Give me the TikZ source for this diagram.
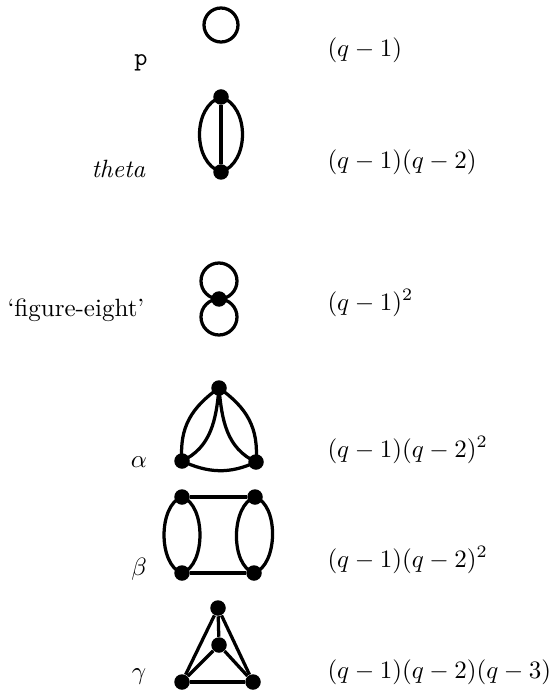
\documentclass[tikz,border=0pt]{standalone}
\begin{document}
\begin{tikzpicture}[x=0.4pt,y=0.4pt,
  edge/.style={line width=1.3pt},
  vtx/.style={circle,fill=black,inner sep=0pt,minimum size=6.2pt},
  lbl/.style={inner sep=0pt},
  poly/.style={anchor=west,inner sep=0pt}]
\useasboundingbox (0,0) rectangle (551,-691);

% p
\draw[edge] (221,-25) circle[radius=17];
\node[lbl,anchor=base] (lp) at (141,-66) {\texttt{p}};
\node[poly] (pp) at (327,-50) {$(q-1)$};

% theta
\node[vtx] (t1) at (221,-97) {};
\node[vtx] (t2) at (221,-172) {};
\draw[edge] (t1.center) to[out=198,in=162,looseness=1.03] (t2.center);
\draw[edge] (t1.center) to[out=-18,in=18,looseness=1.03] (t2.center);
\draw[edge] (t1) -- (t2);
\node[lbl,anchor=base east] (lt) at (146,-178) {\textit{theta}};
\node[poly] (pt) at (327,-162) {$(q-1)(q-2)$};

% figure eight
\node[vtx] (f) at (219,-299) {};
\draw[edge] (f.center) ++(0,18) circle[radius=18];
\draw[edge] (f.center) ++(0,-18) circle[radius=18];
\node[lbl,anchor=west] (lf) at (7,-310) {`figure-eight'};
\node[poly] (pf) at (327,-303) {$(q-1)^2$};

% alpha
\node[vtx] (a1) at (219,-388) {};
\node[vtx] (a2) at (182,-461) {};
\node[vtx] (a3) at (256,-462) {};
\draw[edge] (a1.center) to[out=215,in=95,looseness=1.05] (a2.center);
\draw[edge] (a1.center) to[out=-35,in=85,looseness=1.05] (a3.center);
\draw[edge] (a1.center) to[out=-95,in=25,looseness=1.0] (a2.center);
\draw[edge] (a1.center) to[out=-85,in=155,looseness=1.0] (a3.center);
\draw[edge] (a2.center) to[out=-25,in=-155,looseness=1.0] (a3.center);
\node[lbl] (la) at (139,-462) {$\alpha$};
\node[poly] (pa) at (327,-450) {$(q-1)(q-2)^2$};

% beta
\node[vtx] (b1) at (182,-497) {};
\node[vtx] (b2) at (255,-497) {};
\node[vtx] (b3) at (182,-573) {};
\node[vtx] (b4) at (254,-573) {};
\draw[edge] (b1) -- (b2);
\draw[edge] (b3) -- (b4);
\draw[edge] (b1.center) to[out=198,in=162,looseness=0.85] (b3.center);
\draw[edge] (b1.center) to[out=-18,in=18,looseness=0.85] (b3.center);
\draw[edge] (b2.center) to[out=198,in=162,looseness=0.85] (b4.center);
\draw[edge] (b2.center) to[out=-18,in=18,looseness=0.85] (b4.center);
\node[lbl] (lb) at (139,-569) {$\beta$};
\node[poly] (pb) at (327,-560) {$(q-1)(q-2)^2$};

% gamma
\node[vtx] (g1) at (218,-608) {};
\node[vtx] (g2) at (219,-645) {};
\node[vtx] (g3) at (182,-682) {};
\node[vtx] (g4) at (253,-682) {};
\draw[edge] (g1) -- (g3);
\draw[edge] (g1) -- (g4);
\draw[edge] (g3) -- (g4);
\draw[edge] (g1) -- (g2);
\draw[edge] (g2) -- (g3);
\draw[edge] (g2) -- (g4);
\node[lbl] (lg) at (139,-677) {$\gamma$};
\node[poly] (pg) at (327,-672) {$(q-1)(q-2)(q-3)$};
\end{tikzpicture}
\end{document}
